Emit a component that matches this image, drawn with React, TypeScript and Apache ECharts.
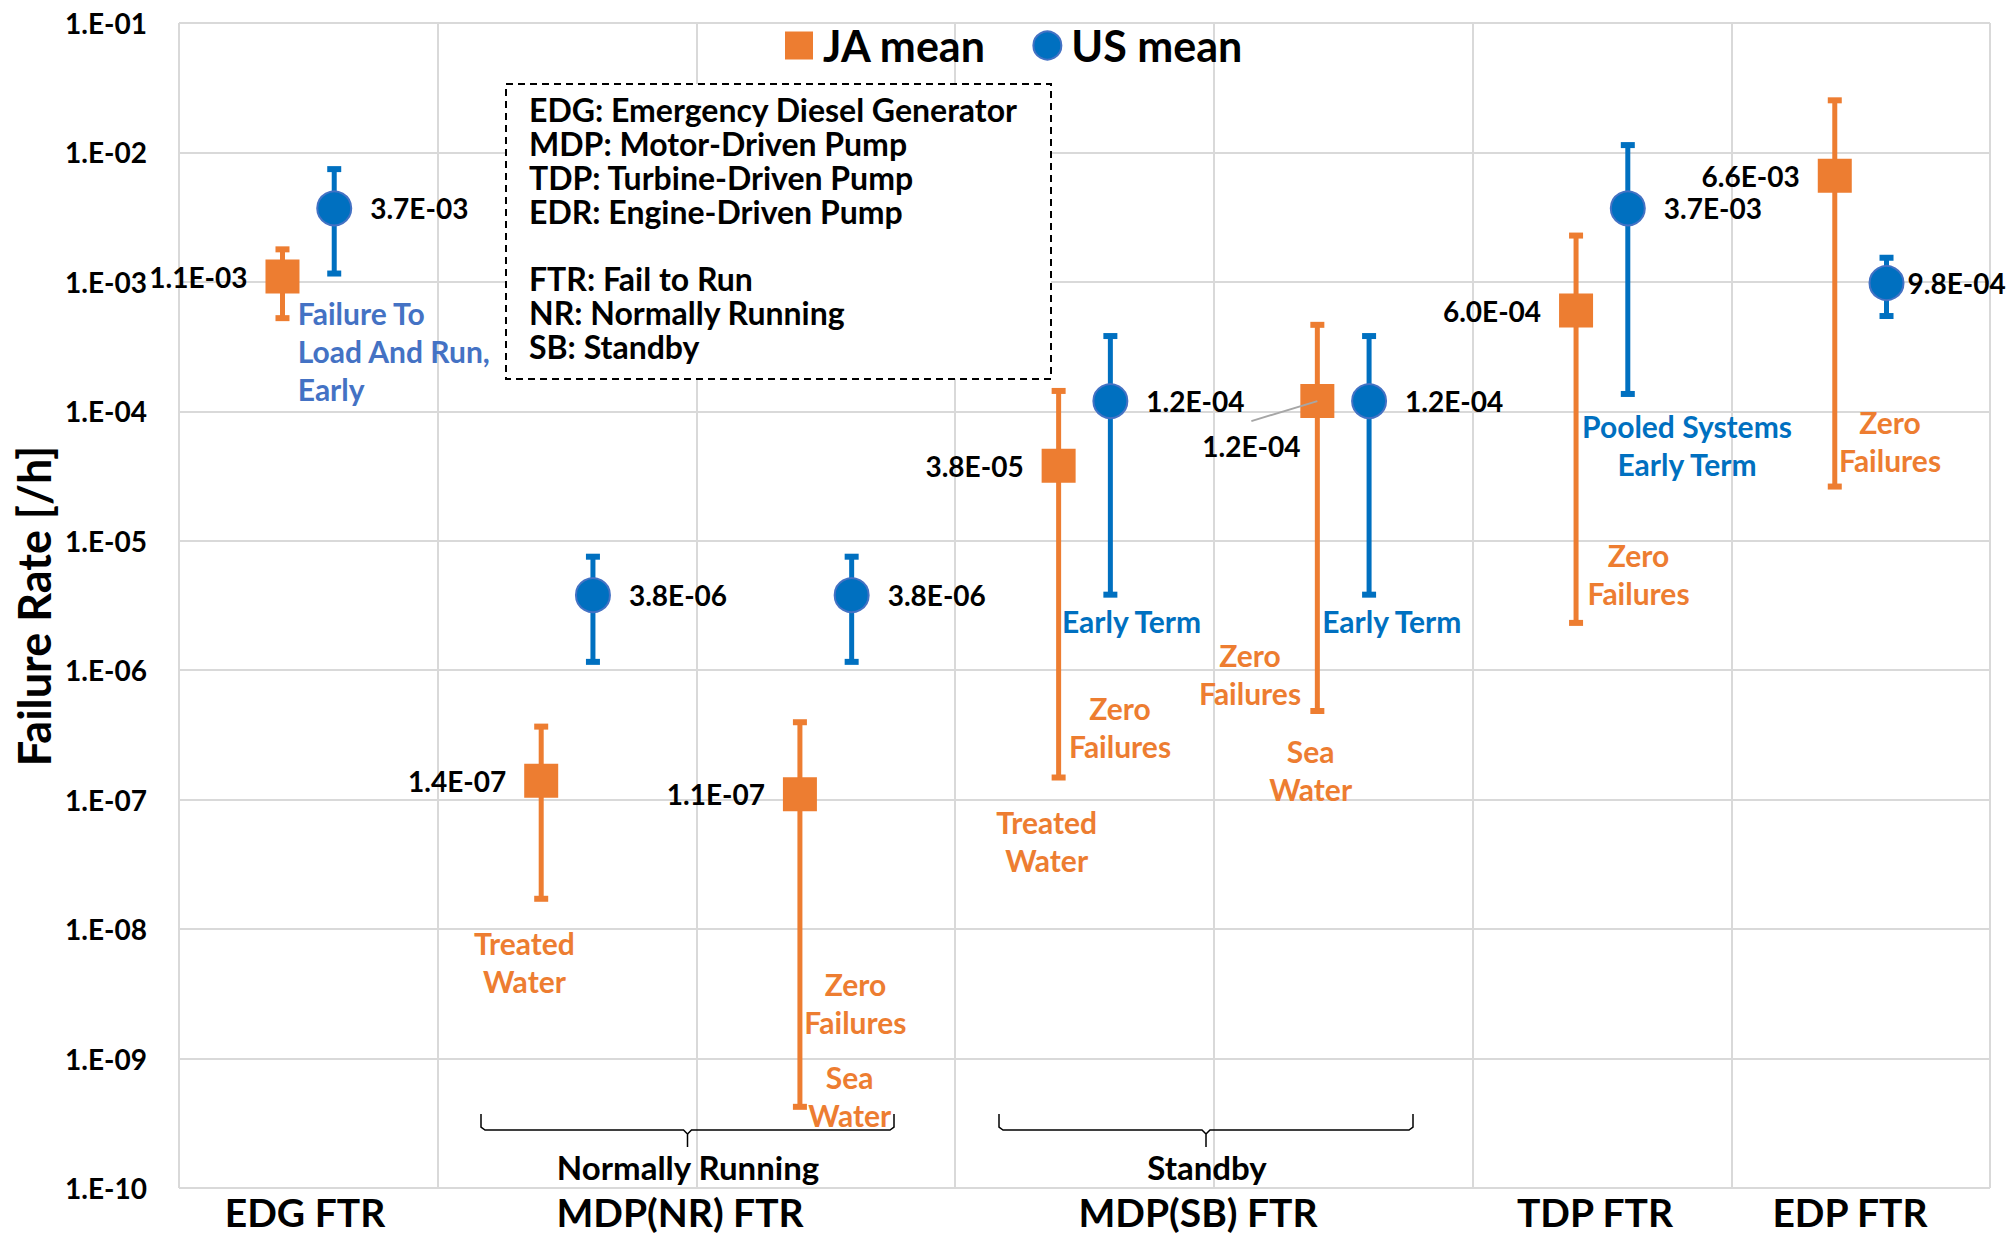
import React, { useEffect, useRef } from "react";
import * as echarts from "echarts";

// ---- data ----
const categories = [
  "EDG FTR",
  "MDP(NR) FTR Treated Water",
  "MDP(NR) FTR Sea Water",
  "MDP(SB) FTR Treated Water",
  "MDP(SB) FTR Sea Water",
  "TDP FTR",
  "EDP FTR",
];
const jaMean = [1.1e-3, 1.4e-7, 1.1e-7, 3.8e-5, 1.2e-4, 6.0e-4, 6.6e-3];
const jaLow = [5.2e-4, 1.7e-8, 4.2e-10, 1.47e-7, 4.8e-7, 2.3e-6, 2.6e-5];
const jaHigh = [1.8e-3, 3.7e-7, 4.0e-7, 1.45e-4, 4.7e-4, 2.3e-3, 2.55e-2];
const usMean = [3.7e-3, 3.8e-6, 3.8e-6, 1.2e-4, 1.2e-4, 3.7e-3, 9.8e-4];
const usLow = [1.15e-3, 1.15e-6, 1.15e-6, 3.8e-6, 3.8e-6, 1.35e-4, 5.4e-4];
const usHigh = [7.5e-3, 7.6e-6, 7.6e-6, 3.85e-4, 3.85e-4, 1.15e-2, 1.55e-3];
const yTickLabels = [
  "1.E-10", "1.E-09", "1.E-08", "1.E-07", "1.E-06",
  "1.E-05", "1.E-04", "1.E-03", "1.E-02", "1.E-01",
];
const groupLabels = ["EDG FTR", "MDP(NR) FTR", "MDP(SB) FTR", "TDP FTR", "EDP FTR"];
const legendNames = ["JA mean", "US mean"];
const glossary = [
  "EDG: Emergency Diesel Generator",
  "MDP: Motor-Driven Pump",
  "TDP: Turbine-Driven Pump",
  "EDR: Engine-Driven Pump",
  "",
  "FTR: Fail to Run",
  "NR: Normally Running",
  "SB: Standby",
];

const ORANGE = "#ED7D31";
const BLUE = "#0070C0";
const BLUE2 = "#4472C4";
const FONT = 'Lato, "Noto Sans", sans-serif';

function fmt(v: number): string {
  const [m, e] = v.toExponential(1).split("e");
  const n = parseInt(e, 10);
  return m + "E" + (n < 0 ? "-" : "+") + String(Math.abs(n)).padStart(2, "0");
}

const xOf = (i: number, side: number) => i + 0.5 + side * 0.1;

function errRender(color: string) {
  return (params: any, api: any) => {
    const x = api.value(0);
    const pTop = api.coord([x, api.value(2)]);
    const pBot = api.coord([x, api.value(1)]);
    const st = { fill: color };
    return {
      type: "group",
      children: [
        { type: "rect", shape: { x: pTop[0] - 2.5, y: pTop[1], width: 5, height: pBot[1] - pTop[1] }, style: st },
        { type: "rect", shape: { x: pTop[0] - 7, y: pTop[1] - 2.5, width: 14, height: 6 }, style: st },
        { type: "rect", shape: { x: pBot[0] - 7, y: pBot[1] - 3.5, width: 14, height: 6 }, style: st },
      ],
    };
  };
}

function txt(text: string, x: number, y: number, color: string, align = "center", size = 30, lh = 38) {
  return {
    type: "text",
    x,
    y,
    z: 60,
    style: {
      text,
      fill: color,
      fontSize: size,
      fontWeight: "bold",
      fontFamily: FONT,
      textAlign: align,
      textVerticalAlign: "top",
      lineHeight: lh,
    },
  };
}

function brace(x1: number, x2: number, xc: number, yTop: number, yMid: number, yTip: number) {
  const st = { stroke: "#000", lineWidth: 1.5, fill: null };
  return [
    {
      type: "polyline",
      z: 60,
      shape: { points: [[x1, yTop], [x1, yMid - 3], [x1 + 4, yMid], [xc - 4, yMid], [xc, yMid + 4], [xc, yTip]] },
      style: st,
    },
    {
      type: "polyline",
      z: 60,
      shape: { points: [[x2, yTop], [x2, yMid - 3], [x2 - 4, yMid], [xc + 4, yMid], [xc, yMid + 4]] },
      style: st,
    },
  ];
}

export default function App() {
  const ref = useRef<HTMLDivElement>(null);

  useEffect(() => {
    if (!ref.current) return;
    const chart = echarts.init(ref.current, undefined, { renderer: "svg" });

    const labelBase = {
      show: true,
      color: "#000",
      fontSize: 28,
      fontWeight: "bold",
      fontFamily: FONT,
      formatter: (p: any) => fmt(p.value[1]),
    };

    const jaData = jaMean.map((v, i) => {
      const item: any = { name: categories[i], value: [xOf(i, -1), v] };
      if (i === 4) item.label = { position: "inside", offset: [-66, 45] };
      return item;
    });
    const usData = usMean.map((v, i) => {
      const item: any = { name: categories[i], value: [xOf(i, 1), v] };
      if (i === 6) item.label = { position: "right", distance: 3 };
      return item;
    });

    chart.setOption({
      animation: false,
      backgroundColor: "#fff",
      grid: { left: 179, right: 21, top: 23, bottom: 47, containLabel: false },
      legend: {
        data: legendNames,
        left: 785,
        top: 24,
        padding: 0,
        itemWidth: 28,
        itemHeight: 28,
        itemGap: 46,
        textStyle: { fontSize: 43, fontWeight: "bold", color: "#000", fontFamily: FONT, padding: [0, 0, 0, 5] },
      },
      xAxis: {
        type: "value",
        min: 0,
        max: 7,
        interval: 1,
        axisLabel: { show: false },
        axisTick: { show: false },
        axisLine: { show: false },
        splitLine: { show: true, lineStyle: { color: "#D9D9D9", width: 2 } },
      },
      yAxis: {
        type: "log",
        logBase: 10,
        min: 1e-10,
        max: 1e-1,
        splitNumber: 9,
        axisTick: { show: false },
        axisLine: { show: false },
        splitLine: { show: true, lineStyle: { color: "#D9D9D9", width: 2 } },
        axisLabel: {
          margin: 32,
          fontSize: 28,
          fontWeight: "bold",
          color: "#000",
          fontFamily: FONT,
          formatter: (v: number) => yTickLabels[Math.round(Math.log10(v)) + 10],
        },
      },
      series: [
        {
          type: "custom",
          name: "JA range",
          renderItem: errRender(ORANGE),
          data: jaLow.map((l, i) => [xOf(i, -1), l, jaHigh[i]]),
          encode: { x: 0, y: [1, 2] },
          clip: false,
          silent: true,
          z: 1,
        },
        {
          type: "custom",
          name: "US range",
          renderItem: errRender(BLUE),
          data: usLow.map((l, i) => [xOf(i, 1), l, usHigh[i]]),
          encode: { x: 0, y: [1, 2] },
          clip: false,
          silent: true,
          z: 1,
        },
        {
          type: "scatter",
          name: "JA mean",
          symbol: "rect",
          symbolSize: 34,
          itemStyle: { color: ORANGE, opacity: 1 },
          label: { ...labelBase, position: "left", distance: 18 },
          data: jaData,
          z: 3,
        },
        {
          type: "scatter",
          name: "US mean",
          symbol: "circle",
          symbolSize: 34,
          itemStyle: { color: BLUE, borderColor: BLUE2, borderWidth: 2, opacity: 1 },
          label: { ...labelBase, position: "right", distance: 18 },
          data: usData,
          z: 3,
        },
      ],
    });

    const p = chart.convertToPixel({ gridIndex: 0 }, [xOf(4, -1), jaMean[4]]) as number[];

    const graphics: any[] = [
      // glossary box
      {
        type: "rect",
        z: 50,
        shape: { x: 506, y: 84, width: 545, height: 295 },
        style: { fill: "#fff", stroke: "#000", lineWidth: 2, lineDash: [7, 5] },
      },
      txt(glossary.join("\n"), 529, 93, "#000", "left", 32, 33.8),
      // y axis title
      {
        type: "text",
        x: 34,
        y: 606,
        rotation: Math.PI / 2,
        z: 60,
        style: {
          text: "Failure Rate [/h]",
          fill: "#000",
          fontSize: 45,
          fontWeight: "bold",
          fontFamily: FONT,
          textAlign: "center",
          textVerticalAlign: "middle",
        },
      },
      // group labels on x axis
      ...groupLabels.map((t, k) => ({
        type: "text",
        x: [305, 680, 1198, 1595, 1850][k],
        y: 1212,
        z: 60,
        style: {
          text: t,
          fill: "#000",
          fontSize: 39,
          fontWeight: "bold",
          fontFamily: FONT,
          textAlign: "center",
          textVerticalAlign: "middle",
        },
      })),
      // annotations
      txt("Failure To\nLoad And Run,\nEarly", 297.7, 294, BLUE2, "left"),
      txt("Treated\nWater", 524.4, 924, ORANGE),
      txt("Zero\nFailures", 855.4, 965, ORANGE),
      txt("Sea\nWater", 849.7, 1058, ORANGE),
      txt("Early Term", 1131.5, 602, BLUE),
      txt("Zero\nFailures", 1120, 689, ORANGE),
      txt("Treated\nWater", 1046.6, 803, ORANGE),
      txt("Zero\nFailures", 1250, 636, ORANGE),
      txt("Sea\nWater", 1310.6, 732, ORANGE),
      txt("Early Term", 1391.8, 602, BLUE),
      txt("Pooled Systems\nEarly Term", 1687, 406.6, BLUE),
      txt("Zero\nFailures", 1638.5, 535.5, ORANGE),
      txt("Zero\nFailures", 1890, 403, ORANGE),
      // braces
      ...brace(481, 894, 687.5, 1114, 1130, 1147),
      txt("Normally Running", 688, 1149, "#000", "center", 33, 36),
      ...brace(999, 1413, 1206, 1114, 1130, 1147),
      txt("Standby", 1207, 1149, "#000", "center", 33, 36),
      // leader line for shifted label
      {
        type: "line",
        z: 60,
        shape: { x1: p[0] - 66, y1: p[1] + 20, x2: p[0], y2: p[1] },
        style: { stroke: "#A6A6A6", lineWidth: 2 },
      },
    ];
    chart.setOption({ graphic: graphics });

    return () => chart.dispose();
  }, []);

  return (
    <div
      ref={ref}
      style={{ position: "absolute", left: 0, top: 0, width: 2011, height: 1235 }}
    />
  );
}
